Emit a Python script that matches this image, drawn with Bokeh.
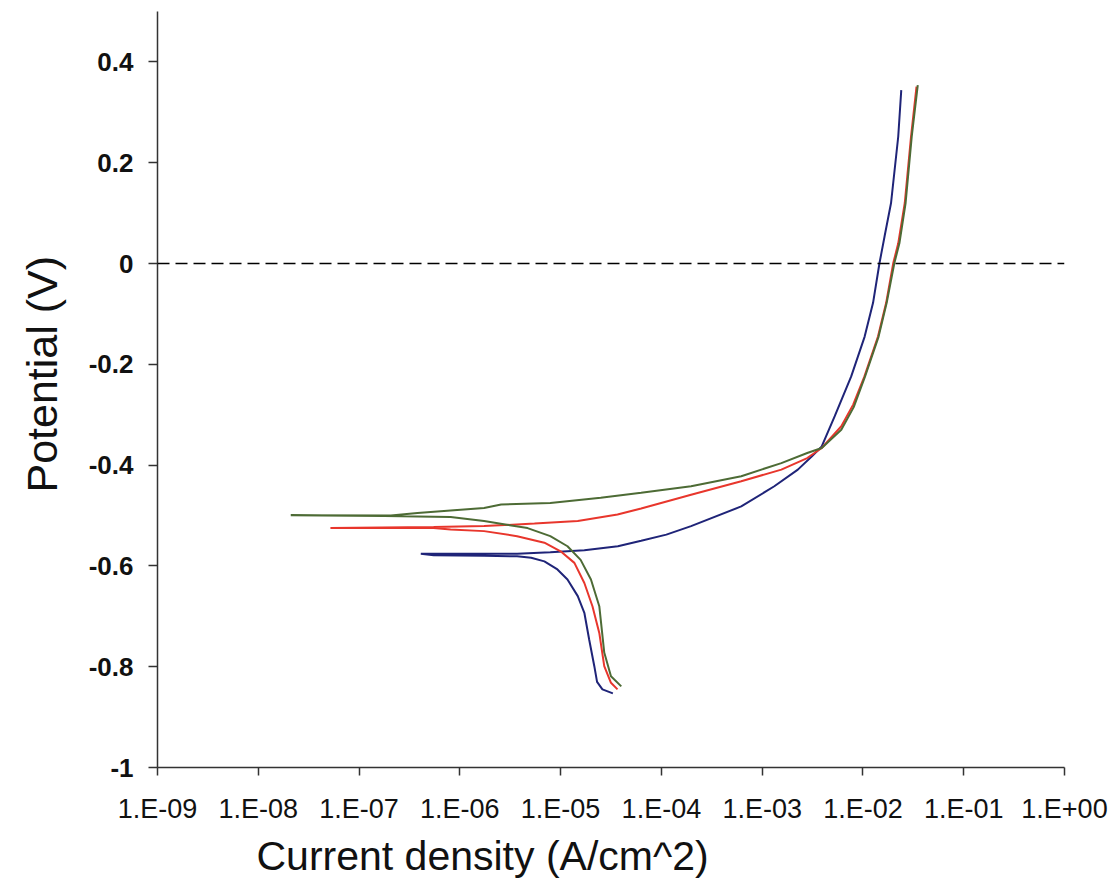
from bokeh.plotting import figure
from bokeh.models import FixedTicker, Span, Title
from bokeh.embed import file_html
from bokeh.resources import INLINE

# ---- axis ticks ----
x_ticks = [1e-9, 1e-8, 1e-7, 1e-6, 1e-5, 1e-4, 1e-3, 1e-2, 1e-1, 1e0]
x_tick_labels = ["1.E-09", "1.E-08", "1.E-07", "1.E-06", "1.E-05",
                 "1.E-04", "1.E-03", "1.E-02", "1.E-01", "1.E+00"]
y_ticks = [-1, -0.8, -0.6, -0.4, -0.2, 0, 0.2, 0.4]
y_tick_labels = ["-1", "-0.8", "-0.6", "-0.4", "-0.2", "0", "0.2", "0.4"]

x_title = "Current density (A/cm^2)"
y_title = "Potential (V)"

# ---- series (scan path: cathodic end -> Ecorr -> anodic end) ----
blue_current = [3.3e-5, 2.6e-5, 2.3e-5, 2.16e-5, 1.92e-5, 1.72e-5, 1.48e-5, 1.17e-5,
                9.3e-6, 6.9e-6, 5.1e-6, 3.7e-6, 1.74e-6, 5.5e-7, 4.1e-7,
                5.5e-7, 3.7e-6, 7.9e-6, 1.72e-5, 3.7e-5, 6.3e-5, 1.12e-4, 1.97e-4,
                6.2e-4, 1.32e-3, 2.26e-3, 3.1e-3, 3.9e-3, 5.25e-3, 7.65e-3,
                1.04e-2, 1.26e-2, 1.46e-2, 1.64e-2, 1.9e-2, 2.24e-2, 2.4e-2]
blue_potential = [-0.853, -0.845, -0.830, -0.799, -0.746, -0.693, -0.660, -0.627,
                  -0.607, -0.591, -0.584, -0.581, -0.580, -0.579, -0.576,
                  -0.576, -0.576, -0.573, -0.569, -0.561, -0.550, -0.538, -0.521,
                  -0.482, -0.442, -0.409, -0.383, -0.363, -0.303, -0.224,
                  -0.145, -0.078, 0.001, 0.054, 0.120, 0.252, 0.344]

red_current = [3.67e-5, 3.16e-5, 2.71e-5, 2.42e-5, 2.07e-5, 1.72e-5, 1.37e-5, 1.0e-5,
               6.9e-6, 3.7e-6, 1.74e-6, 8.1e-7, 5.5e-7, 5.2e-8,
               5.5e-7, 1.74e-6, 5.5e-6, 1.48e-5, 3.67e-5, 6.3e-5, 1.97e-4,
               6.2e-4, 1.55e-3, 2.8e-3, 3.9e-3, 6.1e-3, 8.0e-3, 1.035e-2, 1.41e-2,
               1.70e-2, 2.0e-2, 2.24e-2, 2.6e-2, 3.0e-2, 3.4e-2]
red_potential = [-0.845, -0.832, -0.799, -0.733, -0.680, -0.634, -0.594, -0.571,
                 -0.554, -0.541, -0.531, -0.528, -0.525, -0.525,
                 -0.523, -0.521, -0.516, -0.511, -0.498, -0.486, -0.459,
                 -0.432, -0.409, -0.386, -0.366, -0.323, -0.280, -0.224, -0.145,
                 -0.078, 0.001, 0.040, 0.120, 0.252, 0.351]

green_current = [4.0e-5, 3.16e-5, 2.71e-5, 2.42e-5, 2.0e-5, 1.58e-5, 1.17e-5, 7.9e-6,
                 4.7e-6, 1.74e-6, 8.1e-7, 1.78e-7, 2.1e-8,
                 2.07e-7, 3.8e-7, 8.1e-7, 1.74e-6, 2.57e-6, 7.9e-6, 2.5e-5, 6.3e-5,
                 1.97e-4, 6.2e-4, 1.55e-3, 2.8e-3, 3.9e-3, 6.1e-3, 8.1e-3, 1.05e-2,
                 1.43e-2, 1.72e-2, 2.05e-2, 2.3e-2, 2.65e-2, 3.05e-2, 3.5e-2]
green_potential = [-0.839, -0.819, -0.772, -0.680, -0.627, -0.588, -0.561, -0.541,
                   -0.525, -0.511, -0.503, -0.501, -0.4995,
                   -0.500, -0.495, -0.490, -0.485, -0.478, -0.475, -0.465, -0.455,
                   -0.442, -0.422, -0.396, -0.376, -0.366, -0.330, -0.285, -0.224,
                   -0.145, -0.078, 0.001, 0.040, 0.120, 0.252, 0.354]

FONT = "Liberation Sans"

p = figure(x_axis_type="log", x_range=(1e-9, 1e0), y_range=(-1, 0.5),
           frame_width=907, frame_height=756,
           min_border_left=156, min_border_top=11, min_border_right=44,
           min_border_bottom=110,
           output_backend="svg", toolbar_location=None,
           background_fill_color="white", border_fill_color="white")
p.outline_line_color = None
p.xgrid.grid_line_color = None
p.ygrid.grid_line_color = None

# x axis
p.xaxis.ticker = FixedTicker(ticks=x_ticks, minor_ticks=[])
p.xaxis.major_label_overrides = dict(zip(x_ticks, x_tick_labels))
p.xaxis.major_tick_in = 0
p.xaxis.major_tick_out = 8
p.xaxis.minor_tick_line_color = None
p.xaxis.major_label_standoff = 18
p.xaxis.major_label_text_font = FONT
p.xaxis.major_label_text_font_size = "27px"
p.xaxis.major_label_text_color = "#111111"

# y axis
p.yaxis.ticker = FixedTicker(ticks=y_ticks, minor_ticks=[])
p.yaxis.major_label_overrides = dict(zip(y_ticks, y_tick_labels))
p.yaxis.major_tick_in = 0
p.yaxis.major_tick_out = 9
p.yaxis.minor_tick_line_color = None
p.yaxis.major_label_standoff = 15
p.yaxis.major_label_text_font = FONT
p.yaxis.major_label_text_font_size = "26px"
p.yaxis.major_label_text_font_style = "bold"
p.yaxis.major_label_text_color = "#111111"

for ax in (p.xaxis, p.yaxis):
    ax.axis_line_color = "#333333"
    ax.axis_line_width = 1.5
    ax.major_tick_line_color = "#333333"
    ax.major_tick_line_width = 1.5

# zero potential reference
p.add_layout(Span(location=0, dimension="width", line_color="black",
                  line_width=1.5, line_dash="12 6"))

p.line(blue_current, blue_potential, line_color="#1f2478", line_width=2)
p.line(red_current, red_potential, line_color="#e8362c", line_width=2)
p.line(green_current, green_potential, line_color="#4d6b35", line_width=2)

# axis titles
p.add_layout(Title(text=x_title, align="left", offset=99, vertical_align="top",
                   standoff=12, text_font=FONT, text_font_size="41px",
                   text_font_style="normal", text_color="#111111"), "below")
p.add_layout(Title(text=y_title, align="left", offset=275, vertical_align="top",
                   standoff=35, text_font=FONT, text_font_size="43px",
                   text_font_style="normal", text_color="#111111"), "left")

open("out.html", "w").write(file_html(p, INLINE))
